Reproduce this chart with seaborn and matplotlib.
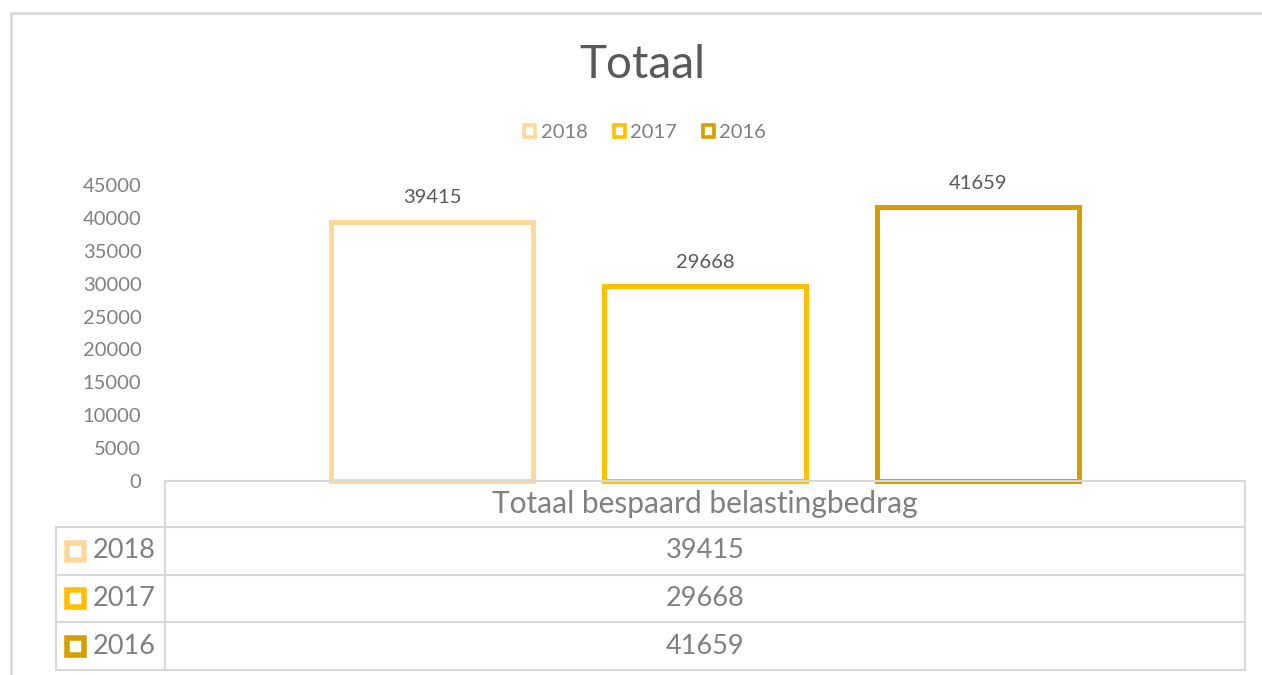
import matplotlib
matplotlib.use("Agg")
import matplotlib.pyplot as plt
from matplotlib.patches import Rectangle, Patch
from matplotlib.lines import Line2D
import seaborn as sns
import pandas as pd

# ---- data ----
years = ["2018", "2017", "2016"]
values = [39415, 29668, 41659]
category = "Totaal bespaard belastingbedrag"
title = "Totaal"
yticks = [0, 5000, 10000, 15000, 20000, 25000, 30000, 35000, 40000, 45000]
colors = ["#FFD89B", "#FFC000", "#D4A000"]

W, H = 1262, 675
sns.set_theme(style="white")
plt.rcParams["font.family"] = ["Lato", "DejaVu Sans"]

fig = plt.figure(figsize=(W / 100, H / 100), dpi=100)
fig.patch.set_facecolor("white")

def fx(px):
    return px / W

def fy(py):
    return 1 - py / H

grid_c = "#D9D9D9"
txt_c = "#808080"
dark_c = "#595959"

# outer frame
fig.add_artist(Line2D([fx(11), fx(11)], [fy(13), fy(680)], color=grid_c, lw=2))
fig.add_artist(Line2D([fx(11), fx(1270)], [fy(13), fy(13)], color=grid_c, lw=2))

# axes
ax = fig.add_axes([fx(165), fy(481), fx(1245) - fx(165), fy(185) - fy(481)])
df = pd.DataFrame({"year": years, "value": values})
sns.barplot(data=df, x="year", y="value", hue="year", order=years, hue_order=years,
            palette=colors, fill=False, linewidth=3.6, width=0.74, legend=False,
            dodge=False, ax=ax)
for p, c in zip(ax.patches, colors):
    p.set_edgecolor(c)
    p.set_facecolor("none")
    p.set_linewidth(3.6)
    p.set_joinstyle("miter")
    p.set_clip_on(False)

ax.set_xlim(-0.978, 2.978)
ax.set_ylim(0, 45000)
ax.set_yticks(yticks)
ax.set_yticklabels([str(t) for t in yticks], color=txt_c, fontsize=14.5)
ax.tick_params(axis="y", length=0, pad=17)
ax.set_xticks([])
ax.set_xlabel("")
ax.set_ylabel("")
for s in ax.spines.values():
    s.set_visible(False)
ax.patch.set_alpha(0)

for container in ax.containers:
    ax.bar_label(container, fmt="%d", padding=11, color=dark_c, fontsize=14.5)

# title
fig.text(fx(642), fy(65), title, ha="center", va="center", fontsize=33, color=dark_c)

# legend
handles = [Patch(facecolor="white", edgecolor=c, linewidth=2.6, label=y) for y, c in zip(years, colors)]
fig.legend(handles=handles, loc="center", bbox_to_anchor=(fx(645), fy(133)), ncol=3,
           frameon=False, fontsize=14.5, handlelength=0.55, handleheight=0.55,
           handletextpad=0.25, columnspacing=1.3, labelcolor=txt_c)

# data table
tl = 1.5
row_y = [481, 527, 575, 622, 670]
fig.add_artist(Line2D([fx(165), fx(1245)], [fy(481), fy(481)], color=grid_c, lw=tl))
for yy in row_y[1:]:
    fig.add_artist(Line2D([fx(56), fx(1245)], [fy(yy), fy(yy)], color=grid_c, lw=tl))
fig.add_artist(Line2D([fx(165), fx(165)], [fy(481), fy(670)], color=grid_c, lw=tl))
fig.add_artist(Line2D([fx(1245), fx(1245)], [fy(481), fy(670)], color=grid_c, lw=tl))
fig.add_artist(Line2D([fx(56), fx(56)], [fy(527), fy(670)], color=grid_c, lw=tl))

fig.text(fx(705), fy(504), category, ha="center", va="center", fontsize=21.5, color=txt_c)
for i, (y, v, c) in enumerate(zip(years, values, colors)):
    cy = (row_y[i + 1] + row_y[i + 2]) / 2
    fig.add_artist(Rectangle((fx(67), fy(cy + 8.5)), fx(17), 17 / H, facecolor="white",
                             edgecolor=c, linewidth=4, joinstyle="miter", transform=fig.transFigure))
    fig.text(fx(93), fy(cy), y, ha="left", va="center", fontsize=19.5, color=txt_c)
    fig.text(fx(705), fy(cy), str(v), ha="center", va="center", fontsize=19.5, color=txt_c)

fig.savefig("out.png", dpi=100, facecolor="white")
